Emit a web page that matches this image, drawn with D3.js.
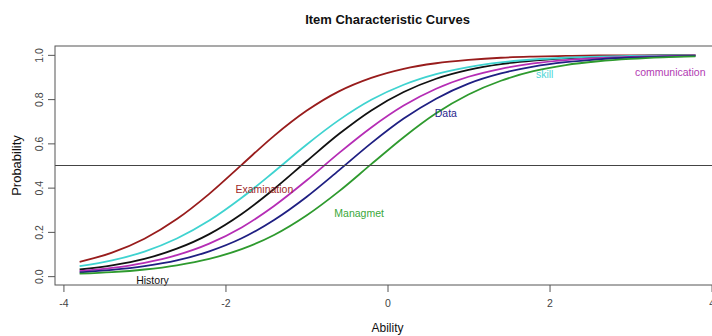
<!DOCTYPE html>
<html>
<head>
<meta charset="utf-8">
<script src="https://cdn.jsdelivr.net/npm/d3@7"></script>
<style>
  html, body { margin: 0; padding: 0; background: #fff; }
  svg { display: block; font-family: 'Liberation Sans', Arial, sans-serif; }
</style>
</head>
<body>
<svg id="chart" width="712" height="336"></svg>
<script>
// ability grid the curves were read at
const abilities = [-3.8, -3.4, -3.0, -2.6, -2.2, -1.8, -1.4, -1.0, -0.6, -0.2,
                   0.2, 0.6, 1.0, 1.4, 1.8, 2.2, 2.6, 3.0, 3.4, 3.8];

const items = ['History', 'Examination', 'skill', 'communication', 'Data', 'Managmet'];

const history       = [0.030, 0.049, 0.078, 0.124, 0.190, 0.281, 0.394, 0.519, 0.642, 0.749,
                       0.832, 0.892, 0.932, 0.958, 0.974, 0.984, 0.991, 0.994, 0.997, 0.998];
const examination   = [0.065, 0.106, 0.169, 0.258, 0.372, 0.503, 0.634, 0.747, 0.835, 0.896,
                       0.937, 0.962, 0.977, 0.987, 0.992, 0.995, 0.997, 0.998, 0.999, 0.999];
const skill         = [0.045, 0.071, 0.111, 0.170, 0.251, 0.354, 0.472, 0.594, 0.705, 0.797,
                       0.865, 0.913, 0.945, 0.966, 0.979, 0.987, 0.992, 0.995, 0.997, 0.998];
const communication = [0.023, 0.037, 0.060, 0.095, 0.147, 0.220, 0.317, 0.432, 0.556, 0.672,
                       0.771, 0.847, 0.901, 0.937, 0.961, 0.976, 0.985, 0.991, 0.994, 0.997];
const dataItem      = [0.017, 0.028, 0.045, 0.071, 0.112, 0.171, 0.254, 0.358, 0.478, 0.601,
                       0.712, 0.802, 0.870, 0.916, 0.947, 0.967, 0.980, 0.988, 0.992, 0.995];
const managmet      = [0.011, 0.018, 0.030, 0.049, 0.078, 0.122, 0.186, 0.274, 0.383, 0.506,
                       0.628, 0.736, 0.821, 0.883, 0.926, 0.954, 0.971, 0.982, 0.989, 0.993];

const seriesValues = [history, examination, skill, communication, dataItem, managmet];

// where each item name is written (ability, probability)
const labelAbility = [-2.90, -1.52, 1.94, 3.49, 0.72, -0.35];
const labelProb    = [-0.018, 0.394, 0.910, 0.919, 0.738, 0.285];

const xTicks = [-4, -2, 0, 2, 4];
const yTicks = [0, 0.2, 0.4, 0.6, 0.8, 1.0];

const lineColors = ['#111111', '#981c1c', '#3fd3d0', '#b52db5', '#1f1f82', '#2e9a2e'];
const textColors = ['#111111', '#a02a2a', '#4fd6d6', '#b23ab2', '#26268c', '#3aa83a'];

const margin = { top: 46, right: -8, bottom: 51, left: 55 };
const width = 712 - margin.left - margin.right;
const height = 336 - margin.top - margin.bottom;

const svg = d3.select('#chart');
const g = svg.append('g')
    .attr('transform', `translate(${margin.left},${margin.top})`);

// R style: 4% padding on both ends
const x = d3.scaleLinear().domain([-4.104, 4.104]).range([0, width]);
const y = d3.scaleLinear().domain([-0.04, 1.04]).range([height, 0]);

// title
svg.append('text')
    .attr('x', margin.left + width / 2)
    .attr('y', 24)
    .attr('text-anchor', 'middle')
    .attr('font-size', 13)
    .attr('font-weight', 'bold')
    .attr('fill', '#111')
    .text('Item Characteristic Curves');

// curves
const line = d3.line()
    .x((d, i) => x(abilities[i]))
    .y(d => y(d))
    .curve(d3.curveMonotoneX);

g.append('g')
    .attr('class', 'curves')
    .selectAll('path')
    .data(seriesValues)
    .enter()
    .append('path')
        .attr('d', line)
        .attr('fill', 'none')
        .attr('stroke', (d, i) => lineColors[i])
        .attr('stroke-width', 1.8);

// reference line at 0.5
g.append('line')
    .attr('x1', 0)
    .attr('x2', width)
    .attr('y1', y(0.5))
    .attr('y2', y(0.5))
    .attr('stroke', '#444')
    .attr('stroke-width', 1);

// item names
g.append('g')
    .attr('class', 'labels')
    .selectAll('text')
    .data(items)
    .enter()
    .append('text')
        .attr('x', (d, i) => x(labelAbility[i]))
        .attr('y', (d, i) => y(labelProb[i]))
        .attr('dy', '0.35em')
        .attr('text-anchor', 'middle')
        .attr('font-size', 10.5)
        .attr('fill', (d, i) => textColors[i])
        .text(d => d);

// box
g.append('rect')
    .attr('x', 0)
    .attr('y', 0)
    .attr('width', width)
    .attr('height', height)
    .attr('fill', 'none')
    .attr('stroke', '#555')
    .attr('stroke-width', 1);

// x axis (plain hyphen minus, like R)
const xAxis = g.append('g')
    .attr('transform', `translate(0,${height})`)
    .call(d3.axisBottom(x).tickValues(xTicks).tickSize(7).tickPadding(8).tickFormat(d => String(d)));
xAxis.select('.domain').remove();
xAxis.selectAll('line').attr('stroke', '#555');
xAxis.selectAll('text')
    .attr('font-size', 10.5)
    .attr('fill', '#444')
    .style('font-family', "'Liberation Sans', Arial, sans-serif");

// y axis, labels turned like R's las = 0
const yAxis = g.append('g')
    .call(d3.axisLeft(y).tickValues(yTicks).tickSize(7).tickFormat(d3.format('.1f')));
yAxis.select('.domain').remove();
yAxis.selectAll('line').attr('stroke', '#555');
yAxis.selectAll('text')
    .attr('x', null)
    .attr('dy', null)
    .attr('text-anchor', 'middle')
    .attr('transform', 'translate(-12,0) rotate(-90)')
    .attr('font-size', 10.5)
    .attr('fill', '#444')
    .style('font-family', "'Liberation Sans', Arial, sans-serif");

// axis titles
svg.append('text')
    .attr('x', margin.left + width / 2)
    .attr('y', 332)
    .attr('text-anchor', 'middle')
    .attr('font-size', 12)
    .attr('fill', '#111')
    .text('Ability');

svg.append('text')
    .attr('transform', `translate(21,${margin.top + y(0.5)}) rotate(-90)`)
    .attr('text-anchor', 'middle')
    .attr('font-size', 13)
    .attr('fill', '#111')
    .text('Probability');
</script>
</body>
</html>
